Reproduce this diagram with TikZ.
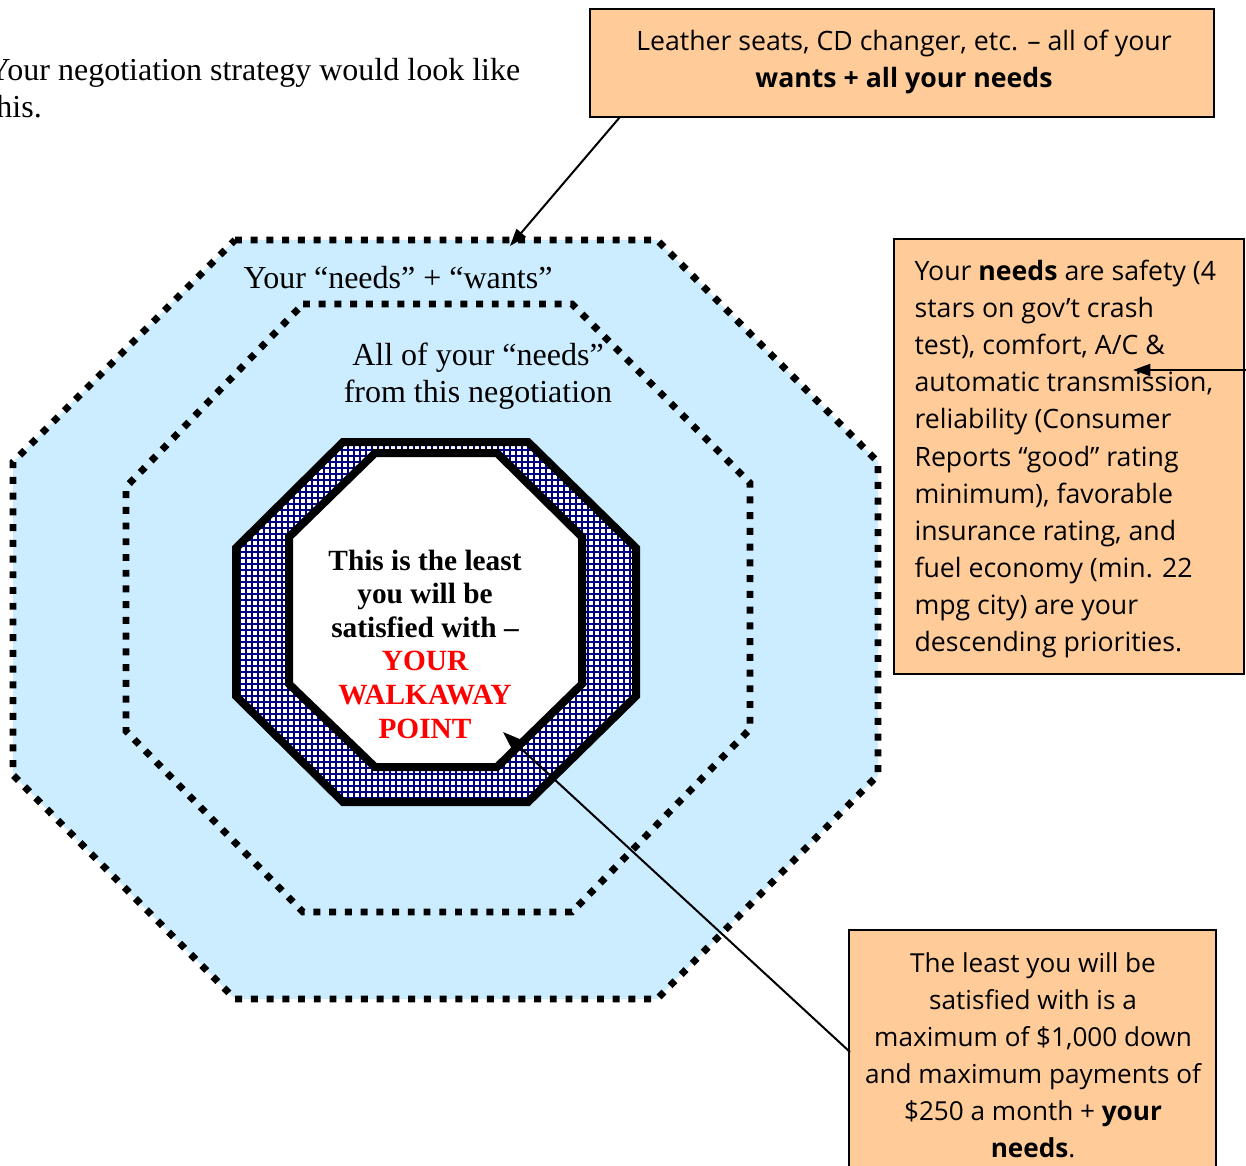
\documentclass[tikz,border=0pt]{standalone}
\usepackage{fontspec}
\setmainfont{Liberation Serif}
\newfontfamily\notefont{Open Sans}
\usetikzlibrary{arrows.meta}
\definecolor{skyfill}{HTML}{CCECFF}
\definecolor{notefill}{HTML}{FFCC99}
\definecolor{gridnavy}{HTML}{000080}
\definecolor{walkred}{HTML}{FF0000}
\begin{document}
\begin{tikzpicture}[x=0.375pt,y=-0.375pt,
  dotline/.style={line width=2.6pt, dash pattern=on 2.6pt off 3.3pt},
  thickrim/.style={line width=3pt, line join=miter},
  notebox/.style={draw=black, line width=0.8pt, fill=notefill},
  notetext/.style={font=\notefont\fontsize{10}{13.9}\selectfont, inner sep=0pt},
  serifnote/.style={font=\fontsize{12}{13.8}\selectfont, inner sep=0pt},
  pointer/.style={line width=0.75pt, -{Triangle[length=6.5pt,width=4.5pt]}}]
\useasboundingbox (0,0) rectangle (1246,1165);

% intro sentence, running past the left edge
\node[serifnote, anchor=base west] (introA) at (-13,81) {Your negotiation strategy would look like};
\node[serifnote, anchor=base west] (introB) at (-13,118) {this.};

% outer zone: needs + wants
\fill[skyfill] (235,240) -- (657,240) -- (878,462) -- (878,775) -- (657,999)
  -- (235,999) -- (13,775) -- (13,462) -- cycle;
\draw[dotline] (235,240) -- (657,240) -- (878,462) -- (878,775) -- (657,999)
  -- (235,999) -- (13,775) -- (13,462) -- cycle;

% middle zone: all needs
\draw[dotline] (303,304) -- (572,304) -- (750,483) -- (750,729) -- (572,912)
  -- (303,912) -- (126,731) -- (126,487) -- cycle;

% walkaway ring with cross-hatching
\fill[white] (343,442) -- (528,442) -- (636,548) -- (636,696) -- (528,802)
  -- (343,802) -- (236,696) -- (236,548) -- cycle;
\begin{scope}
  \clip (343,442) -- (528,442) -- (636,548) -- (636,696) -- (528,802)
    -- (343,802) -- (236,696) -- (236,548) -- cycle;
  \draw[gridnavy, line width=0.55pt] (228,434) grid[step=2.25pt] (644,810);
\end{scope}
\draw[thickrim] (343,442) -- (528,442) -- (636,548) -- (636,696) -- (528,802)
  -- (343,802) -- (236,696) -- (236,548) -- cycle;
\filldraw[thickrim, fill=white] (375,453) -- (497,453) -- (582,537) -- (582,684)
  -- (497,767) -- (375,767) -- (289,684) -- (289,537) -- cycle;

% zone labels
\node[serifnote] (wantsLabel) at (398,278) {Your “needs” + “wants”};
\node[serifnote, align=center] (needsLabel) at (478,376) {All of your “needs”\\from this negotiation};
\node[font=\bfseries\fontsize{11}{12.6}\selectfont, inner sep=0pt, align=center] (walkLabel) at (425,644)
  {This is the least\\you will be\\satisfied with –\\\textcolor{walkred}{YOUR}\\\textcolor{walkred}{WALKAWAY}\\\textcolor{walkred}{POINT}};

% callout boxes
\node[notebox, minimum width=624*0.375pt, minimum height=108*0.375pt] (topNote) at (902,63) {};
\node[notetext, align=center] (topText) at (904,62)
  {Leather seats, CD changer, etc. – all of your\\\textbf{wants + all your needs}};

\node[notebox, minimum width=350*0.375pt, minimum height=435*0.375pt] (rightNote) at (1069,456.5) {};
\node[notetext, align=left, anchor=west] (rightText) at (914,459)
  {Your \textbf{needs} are safety (4\\stars on gov’t crash\\test), comfort, A/C \&\\automatic transmission,\\reliability (Consumer\\Reports “good” rating\\minimum), favorable\\insurance rating, and\\fuel economy (min. 22\\mpg city) are your\\descending priorities.};

\node[notebox, minimum width=367*0.375pt, minimum height=260*0.375pt] (bottomNote) at (1032.5,1060) {};
\node[notetext, align=center, font=\notefont\fontsize{9.8}{13.9}\selectfont] (bottomText) at (1033,1055)
  {The least you will be\\satisfied with is a\\maximum of \$1,000 down\\and maximum payments of\\\$250 a month + \textbf{your}\\\textbf{needs}.};

% pointers
\coordinate (wantsTail) at (620,117);
\coordinate (wantsTip) at (510,246);
\draw[pointer] (wantsTail) -- (wantsTip);

\coordinate (needsTail) at (1246,370);
\coordinate (needsTip) at (1133,370);
\draw[pointer] (needsTail) -- (needsTip);

\coordinate (walkTail) at (850,1052);
\coordinate (walkTip) at (503,732);
\draw[pointer] (walkTail) -- (walkTip);
\end{tikzpicture}
\end{document}
